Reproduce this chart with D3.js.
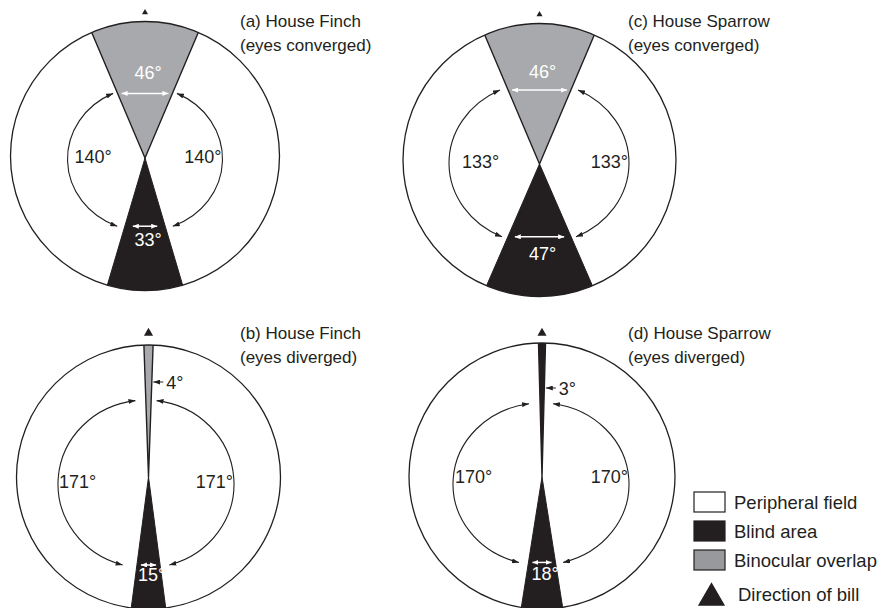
<!DOCTYPE html>
<html>
<head>
<meta charset="utf-8">
<script src="https://cdn.jsdelivr.net/npm/d3@7/dist/d3.min.js"></script>
<style>
  html, body { margin: 0; padding: 0; background: #fff; }
  svg { display: block; }
  text { font-family: "Liberation Sans", Arial, Helvetica, sans-serif; fill: #231f20; }
</style>
</head>
<body>
<svg id="chart" width="877" height="608"></svg>
<script>
// Visual fields of house finches and house sparrows (degrees)
const species     = ["(a) House Finch", "(c) House Sparrow", "(b) House Finch", "(d) House Sparrow"];
const eyeState    = ["(eyes converged)", "(eyes converged)", "(eyes diverged)", "(eyes diverged)"];
const binocular   = [46, 46, 4, 3];
const peripheral  = [140, 133, 171, 170];
const blind       = [33, 47, 15, 18];
const legendItems = ["Peripheral field", "Blind area", "Binocular overlap", "Direction of bill"];

const C = { ink: "#231f20", grey: "#a7a9ac", legendGrey: "#97999c", white: "#ffffff" };

// Panel geometry: circle centre/radius, apex of the wedges, curved-arrow ellipse, label placement
const layout = [
  { cx: 145, cy: 156, r: 134.5, apexY: 158, ax: 145, ay: 159, rx: 77.5, ry: 72, gapTop: 1.3, gapBot: 4.5,
    tx: 240, ty: 27, triDy: 9, triSize: 16, upperArrow: true, lblUp: -14, lblDown: 20, sideDy: 5, leftIn: 7, binoFill: C.grey, lowerInset: 8 },
  { cx: 539.5, cy: 160, r: 136.5, apexY: 164, ax: 539, ay: 163, rx: 90, ry: 81, gapTop: 2.7, gapBot: 0.8,
    tx: 628, ty: 27, triDy: 9, triSize: 16, upperArrow: true, lblUp: -12, lblDown: 23, sideDy: 4, leftIn: 13, binoFill: C.grey, lowerInset: 7 },
  { cx: 148.5, cy: 477, r: 132, apexY: 477, ax: 146, ay: 484, rx: 88, ry: 84, gapTop: 4.9, gapBot: 7.9,
    tx: 240, ty: 339, triDy: 12, triSize: 36, upperArrow: false, lblUp: 0, lblDown: 16, sideDy: 11, leftIn: 1, binoFill: C.grey, lowerInset: 4 },
  { cx: 542, cy: 476, r: 133, apexY: 477, ax: 541, ay: 484, rx: 88, ry: 81, gapTop: 6.3, gapBot: 5.5,
    tx: 628, ty: 339, triDy: 10, triSize: 36, upperArrow: false, lblUp: 0, lblDown: 18, sideDy: 6, leftIn: 2, binoFill: C.ink, lowerInset: 4 }
];

const svg = d3.select("#chart");
svg.append("rect").attr("width", 877).attr("height", 608).attr("fill", "#fff");

const toRad = d3.scaleLinear().domain([0, 360]).range([0, 2 * Math.PI]);

// Arrowhead markers
const defs = svg.append("defs");
function marker(id, color, w, h) {
  defs.append("marker")
    .attr("id", id).attr("markerUnits", "userSpaceOnUse")
    .attr("markerWidth", w).attr("markerHeight", h)
    .attr("refX", w).attr("refY", h / 2)
    .attr("orient", "auto-start-reverse")
    .append("path").attr("d", `M0,0L${w},${h / 2}L0,${h}Z`).attr("fill", color);
}
marker("headInk", C.ink, 7, 5);
marker("headWhite", C.white, 6, 5);

const degW = 6.4; // width of the degree sign at 18px, used to centre the digits

species.forEach((name, i) => {
  const L = layout[i];
  const g = svg.append("g");
  const apex = [L.cx, L.apexY];

  const clipId = "clip" + i;
  defs.append("clipPath").attr("id", clipId)
    .append("circle").attr("cx", L.cx).attr("cy", L.cy).attr("r", L.r);

  // peripheral field
  g.append("circle").attr("cx", L.cx).attr("cy", L.cy).attr("r", L.r).attr("fill", C.white);

  const wedge = d3.arc().innerRadius(0).outerRadius(L.r * 2);
  const wedges = g.append("g").attr("clip-path", `url(#${clipId})`)
    .append("g").attr("transform", `translate(${apex[0]},${apex[1]})`);

  // binocular overlap (ahead) and blind area (behind)
  const bHalf = toRad(binocular[i] / 2);
  wedges.append("path")
    .attr("d", wedge({ startAngle: -bHalf, endAngle: bHalf }))
    .attr("fill", L.binoFill).attr("stroke", C.ink).attr("stroke-width", 1.4).attr("stroke-linejoin", "round");
  const kHalf = toRad(blind[i] / 2);
  wedges.append("path")
    .attr("d", wedge({ startAngle: Math.PI - kHalf, endAngle: Math.PI + kHalf }))
    .attr("fill", C.ink).attr("stroke", C.ink).attr("stroke-width", 1);

  g.append("circle").attr("cx", L.cx).attr("cy", L.cy).attr("r", L.r)
    .attr("fill", "none").attr("stroke", C.ink).attr("stroke-width", 1.3);

  // curved double arrows spanning each peripheral field
  const tTop = toRad(binocular[i] / 2 + L.gapTop);
  const tBot = toRad(blind[i] / 2 + L.gapBot);
  const pt = (t, side) => [L.ax + side * L.rx * Math.sin(t), L.ay - L.ry * Math.cos(t)];
  [-1, 1].forEach(side => {
    const p0 = pt(tTop, side), p1 = pt(Math.PI - tBot, side);
    const sweep = side < 0 ? 0 : 1;
    g.append("path")
      .attr("d", `M${p0[0]},${p0[1]}A${L.rx},${L.ry} 0 0 ${sweep} ${p1[0]},${p1[1]}`)
      .attr("fill", "none").attr("stroke", C.ink).attr("stroke-width", 1.1)
      .attr("marker-start", "url(#headInk)").attr("marker-end", "url(#headInk)");
  });

  // side labels (peripheral field)
  const yTopTip = pt(tTop, 1)[1], yBotTip = pt(Math.PI - tBot, 1)[1];
  g.append("text").attr("x", L.ax - L.rx + L.leftIn).attr("y", L.apexY + L.sideDy)
    .attr("font-size", 18).text(peripheral[i] + "°");
  g.append("text").attr("x", L.ax + L.rx - 1).attr("y", L.apexY + L.sideDy)
    .attr("text-anchor", "end").attr("font-size", 18).text(peripheral[i] + "°");

  const halfWidthAt = (y, half) => Math.abs(y - L.apexY) * Math.tan(half);

  // binocular width indicator
  if (L.upperArrow) {
    const hw = halfWidthAt(yTopTip, bHalf) - 4;
    g.append("line").attr("x1", L.cx - hw).attr("x2", L.cx + hw).attr("y1", yTopTip).attr("y2", yTopTip)
      .attr("stroke", C.white).attr("stroke-width", 1.5)
      .attr("marker-start", "url(#headWhite)").attr("marker-end", "url(#headWhite)");
    g.append("text").attr("x", L.cx + degW / 2).attr("y", yTopTip + L.lblUp)
      .attr("text-anchor", "middle").attr("font-size", 18).style("fill", C.white)
      .text(binocular[i] + "°");
  } else {
    const yl = L.apexY - (i === 2 ? 95 : 89);
    const xe = L.cx + halfWidthAt(yl, bHalf) + 1.5;
    g.append("line").attr("x1", xe + 10).attr("x2", xe).attr("y1", yl).attr("y2", yl)
      .attr("stroke", C.ink).attr("stroke-width", 1)
      .attr("marker-end", "url(#headInk)");
    g.append("text").attr("x", xe + 13).attr("y", yl + 6.5)
      .attr("font-size", 18).text(binocular[i] + "°");
  }

  // blind area width indicator
  const hwb = halfWidthAt(yBotTip, kHalf) - L.lowerInset;
  g.append("line").attr("x1", L.cx - hwb).attr("x2", L.cx + hwb).attr("y1", yBotTip).attr("y2", yBotTip)
    .attr("stroke", C.white).attr("stroke-width", 1.5)
    .attr("marker-start", "url(#headWhite)").attr("marker-end", "url(#headWhite)");
  g.append("text").attr("x", L.cx + degW / 2).attr("y", yBotTip + L.lblDown)
    .attr("text-anchor", "middle").attr("font-size", 18).style("fill", C.white)
    .text(blind[i] + "°");

  // direction of bill
  g.append("path").attr("d", d3.symbol(d3.symbolTriangle, L.triSize)())
    .attr("transform", `translate(${L.cx},${L.cy - L.r - L.triDy})`).attr("fill", C.ink);

  // titles
  const t = g.append("text").attr("x", L.tx).attr("y", L.ty).attr("font-size", 17);
  t.append("tspan").attr("x", L.tx).text(name);
  t.append("tspan").attr("x", L.tx).attr("dy", 24).text(eyeState[i]);
});

// Legend
const lg = svg.append("g");
const swatchFill = [C.white, C.ink, C.legendGrey];
legendItems.forEach((label, k) => {
  const y = 492 + k * 29;
  if (k < 3) {
    lg.append("rect").attr("x", 694).attr("y", y).attr("width", 31).attr("height", 20)
      .attr("fill", swatchFill[k]).attr("stroke", C.ink).attr("stroke-width", 1.2);
    lg.append("text").attr("x", 734).attr("y", y + 17).attr("font-size", 18.5).text(label);
  } else {
    lg.append("path").attr("d", d3.symbol(d3.symbolTriangle, 320)())
      .attr("transform", `translate(711.5,598)`).attr("fill", C.ink);
    lg.append("text").attr("x", 738).attr("y", 601).attr("font-size", 18.5).text(label);
  }
});
</script>
</body>
</html>
